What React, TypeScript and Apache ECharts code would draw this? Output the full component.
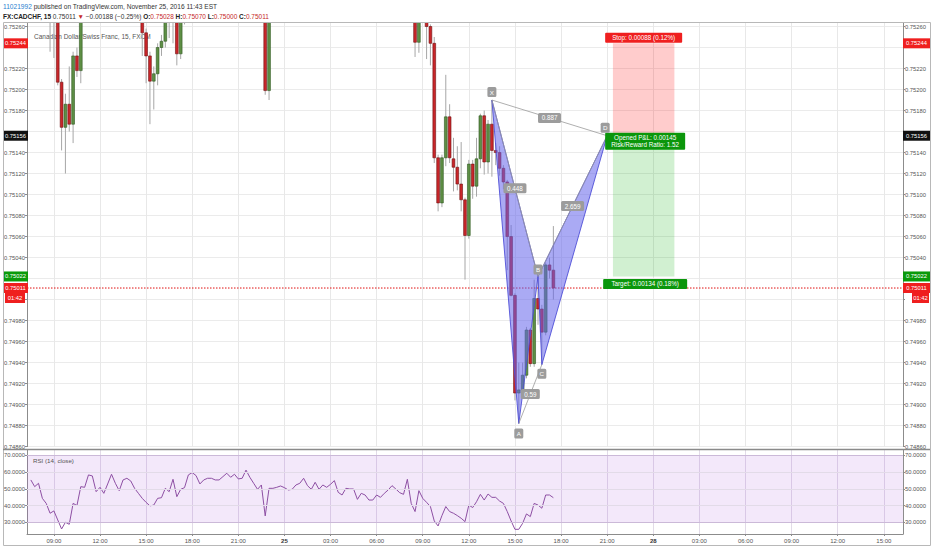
import React, { useEffect, useRef } from "react";
import * as echarts from "echarts";

const FONT = '"Liberation Sans", Arial, sans-serif';

// 15-min bars from 24 Nov 07:30 — [open, high, low, close]
// bars whose whole range sits above the visible pane are rough estimates
const BARS: number[][] = [
  [0.7529, 0.75305, 0.75282, 0.753], [0.753, 0.75306, 0.75278, 0.75285], [0.75285, 0.75298, 0.7528, 0.75292],
  [0.75292, 0.75295, 0.7527, 0.75276], [0.75276, 0.75282, 0.75266, 0.7527], [0.7527, 0.7528, 0.75236, 0.75272],
  [0.75272, 0.75276, 0.7523, 0.75266], [0.75266, 0.7527, 0.75204, 0.75207], [0.75207, 0.7521, 0.75142, 0.75164],
  [0.75164, 0.75196, 0.7512, 0.75186], [0.75186, 0.75222, 0.7516, 0.75167], [0.75167, 0.75236, 0.75149, 0.75232],
  [0.75232, 0.7524, 0.75212, 0.75218], [0.75218, 0.75278, 0.75206, 0.75272], [0.75272, 0.75295, 0.75268, 0.7529],
  [0.7529, 0.75308, 0.75284, 0.75302], [0.75302, 0.75322, 0.75296, 0.75318], [0.75318, 0.75326, 0.75304, 0.75312],
  [0.75312, 0.75336, 0.75308, 0.7533], [0.7533, 0.75338, 0.7532, 0.75328], [0.75328, 0.75334, 0.75308, 0.75316],
  [0.75316, 0.7533, 0.7531, 0.75325], [0.75325, 0.75342, 0.75318, 0.75338], [0.75338, 0.75344, 0.7532, 0.75326],
  [0.75326, 0.7533, 0.75304, 0.7531], [0.7531, 0.75322, 0.753, 0.75318], [0.75318, 0.7532, 0.75294, 0.753],
  [0.753, 0.75304, 0.7528, 0.75288], [0.75288, 0.75292, 0.7527, 0.75275], [0.75275, 0.7528, 0.75232, 0.75254],
  [0.75254, 0.75258, 0.75206, 0.75232], [0.75232, 0.75236, 0.75167, 0.75208], [0.75208, 0.75222, 0.75181, 0.75215],
  [0.75215, 0.75244, 0.75204, 0.7524], [0.7524, 0.75252, 0.75232, 0.75246], [0.75246, 0.75278, 0.7524, 0.75272],
  [0.75272, 0.75286, 0.75249, 0.7528], [0.7528, 0.7529, 0.75244, 0.75274], [0.75274, 0.75278, 0.75223, 0.75234],
  [0.75234, 0.75276, 0.75229, 0.7527], [0.7527, 0.7529, 0.75262, 0.75282], [0.75282, 0.75298, 0.75276, 0.75294],
  [0.75294, 0.7531, 0.75288, 0.75306], [0.75306, 0.75312, 0.75292, 0.753], [0.753, 0.75316, 0.75296, 0.7531],
  [0.7531, 0.7532, 0.75304, 0.75316], [0.75316, 0.75322, 0.75306, 0.75312], [0.75312, 0.7532, 0.75306, 0.75314],
  [0.75314, 0.75324, 0.75308, 0.7532], [0.7532, 0.75332, 0.75316, 0.75328], [0.75328, 0.75334, 0.75316, 0.75322],
  [0.75322, 0.75336, 0.75318, 0.7533], [0.7533, 0.75334, 0.75318, 0.75324], [0.75324, 0.75342, 0.7532, 0.75338],
  [0.75338, 0.75344, 0.75324, 0.7533], [0.7533, 0.75336, 0.75314, 0.7532], [0.7532, 0.75324, 0.75302, 0.75308],
  [0.75308, 0.75312, 0.7529, 0.75298], [0.75298, 0.7531, 0.75292, 0.75306], [0.75306, 0.7531, 0.75294, 0.753],
  [0.753, 0.75306, 0.7529, 0.75296], [0.75296, 0.753, 0.75195, 0.75199], [0.75199, 0.75298, 0.7519, 0.75294],
  [0.75294, 0.753, 0.75288, 0.75296], [0.75296, 0.75304, 0.75292, 0.753], [0.753, 0.75304, 0.75294, 0.75298],
  [0.75298, 0.75302, 0.7529, 0.75294], [0.75294, 0.75298, 0.75288, 0.75292], [0.75292, 0.75304, 0.7529, 0.753],
  [0.753, 0.75308, 0.75296, 0.75304], [0.75304, 0.75316, 0.753, 0.75312], [0.75312, 0.75316, 0.753, 0.75304],
  [0.75304, 0.75308, 0.75292, 0.75298], [0.75298, 0.7531, 0.75294, 0.75306], [0.75306, 0.7531, 0.75294, 0.75298],
  [0.75298, 0.75308, 0.75294, 0.75304], [0.75304, 0.75308, 0.75296, 0.753], [0.753, 0.75312, 0.75298, 0.75308],
  [0.75308, 0.7531, 0.75292, 0.75296], [0.75296, 0.753, 0.75286, 0.75292], [0.75292, 0.75302, 0.75288, 0.75298],
  [0.75298, 0.75302, 0.7529, 0.75296], [0.75296, 0.753, 0.75282, 0.75286], [0.75286, 0.75296, 0.75282, 0.75292],
  [0.75292, 0.75296, 0.75284, 0.75288], [0.75288, 0.75292, 0.75276, 0.7528], [0.7528, 0.75286, 0.75276, 0.7528],
  [0.7528, 0.7529, 0.75276, 0.75286], [0.75286, 0.7529, 0.75278, 0.75283], [0.75283, 0.75292, 0.7528, 0.75288],
  [0.75288, 0.75298, 0.75284, 0.75294], [0.75294, 0.75298, 0.75286, 0.7529], [0.7529, 0.75294, 0.75282, 0.75286],
  [0.75286, 0.7529, 0.7528, 0.75284], [0.75284, 0.75304, 0.7528, 0.753], [0.753, 0.75302, 0.75274, 0.7528],
  [0.7528, 0.75284, 0.75268, 0.75272], [0.75272, 0.75294, 0.7527, 0.7529], [0.7529, 0.75294, 0.75276, 0.75282],
  [0.75282, 0.75286, 0.7527, 0.75275], [0.75275, 0.75278, 0.75231, 0.75245], [0.75245, 0.75276, 0.75235, 0.75272],
  [0.75272, 0.7528, 0.75266, 0.75275], [0.75275, 0.75278, 0.75229, 0.7526], [0.7526, 0.75262, 0.75223, 0.75244],
  [0.75244, 0.7525, 0.7513, 0.75135], [0.75135, 0.75138, 0.75084, 0.75092], [0.75092, 0.75138, 0.75088, 0.75135],
  [0.75135, 0.75214, 0.75127, 0.75174], [0.75174, 0.75186, 0.7513, 0.75135], [0.75134, 0.75154, 0.75103, 0.75126],
  [0.75126, 0.75146, 0.75104, 0.7511], [0.7511, 0.7515, 0.75084, 0.75095], [0.75095, 0.75097, 0.75019, 0.75061],
  [0.75061, 0.75133, 0.75058, 0.75129], [0.75129, 0.75133, 0.75096, 0.75108], [0.75108, 0.75154, 0.75098, 0.75134],
  [0.75134, 0.75177, 0.75125, 0.75175], [0.75175, 0.7518, 0.75119, 0.75131], [0.75131, 0.75171, 0.7512, 0.75167],
  [0.75167, 0.7519, 0.75117, 0.75142], [0.75142, 0.75149, 0.75128, 0.7514], [0.7514, 0.75146, 0.75118, 0.75125],
  [0.75125, 0.75128, 0.75105, 0.75112], [0.75112, 0.75114, 0.75028, 0.7506], [0.7506, 0.75071, 0.75003, 0.75004],
  [0.75004, 0.75006, 0.74904, 0.74911], [0.74911, 0.7494, 0.74882, 0.74914], [0.74914, 0.7494, 0.74907, 0.74928],
  [0.74928, 0.74974, 0.74925, 0.74971], [0.74971, 0.74973, 0.74936, 0.74939], [0.74939, 0.75019, 0.74936, 0.75001],
  [0.75001, 0.75022, 0.74976, 0.74991], [0.74991, 0.74995, 0.74938, 0.74969], [0.74969, 0.75035, 0.74966, 0.75033],
  [0.75033, 0.7504, 0.7502, 0.75028], [0.75028, 0.7507, 0.75, 0.75011],
];

// RSI(14, close), one value per bar
const RSI: number[] = [
  55.3, 51.3, 53.3, 44.3, 41.3, 35.4, 36.8, 31.4, 26, 30, 28.8, 41.3, 40, 51.3, 50.9, 58.3, 57.7, 48.3, 50.9, 47.3,
  52.9, 58.7, 53.3, 48.9, 55.3, 56.3, 54.7, 50.3, 47.3, 44.3, 41.9, 39.8, 40.3, 44.3, 44.7, 50.3, 48.3, 55.7, 45.3, 49.7,
  50.7, 58.3, 59.7, 57.9, 52.9, 55.3, 56.3, 56.3, 55.3, 55.3, 57.3, 59.3, 56.9, 58.7, 55.9, 56.3, 61.2, 56.9, 53.3, 49.7,
  52.3, 33.8, 50.3, 50.3, 50.9, 51.7, 50.7, 49.3, 49.7, 52.3, 53.3, 56.3, 51.9, 49.7, 53.9, 49.7, 52.3, 50.9, 52.7, 54.9,
  47.9, 46.3, 50.3, 49.9, 49.9, 43.7, 47.3, 46.3, 43.3, 43.3, 46.3, 44.9, 47.3, 49.3, 51.9, 49.9, 47.7, 46.7, 55.7, 41.3,
  36.4, 48.9, 44.3, 41.9, 39.4, 30.8, 27.8, 34, 39.4, 36.4, 35.4, 34, 32.4, 30.4, 40.3, 38.8, 42.3, 46.7, 43.3, 46.9,
  44.9, 44.9, 42.7, 41.3, 36.4, 30.8, 25.8, 25.8, 29.4, 35, 33.4, 41.3, 40.3, 38.4, 46.3, 46.3, 44.7,
];

const RSI_TICKS = [30, 40, 50, 60, 70];

// harmonic pattern points (bar index, price)
const PATTERN = [
  { name: "X", bar: 120, price: 0.7519, dx: 0, dy: -8 },
  { name: "A", bar: 127, price: 0.74882, dx: 0, dy: 10 },
  { name: "B", bar: 132, price: 0.75022, dx: 0, dy: -7 },
  { name: "C", bar: 133, price: 0.74938, dx: 0, dy: 9 },
  { name: "D", bar: 150, price: 0.75156, dx: -2, dy: -8 },
];
const RATIOS = [
  { label: "0.887", from: "X", to: "D", w: 23 },
  { label: "0.448", from: "X", to: "B", w: 23 },
  { label: "2.659", from: "B", to: "D", w: 23 },
  { label: "0.59", from: "A", to: "C", w: 19 },
];

const POSITION = { entry: 0.75156, stop: 0.75244, target: 0.75022, fromBar: 152, toBar: 167 };
const POSITION_LABELS = {
  stop: "Stop: 0.00088 (0.12%)",
  opened: "Opened P&L: 0.00145\nRisk/Reward Ratio: 1.52",
  target: "Target: 0.00134 (0.18%)",
};
const LAST_PRICE = 0.75011;
const COUNTDOWN = "01:42";
const PRICE_TAGS = [
  { price: 0.75244, color: "#ef1f1f" },
  { price: 0.75156, color: "#111111" },
  { price: 0.75022, color: "#0b9a0b" },
  { price: 0.75011, color: "#ef1f1f" },
];

const HEADER_1 = "{u|11021992}{t| published on TradingView.com, November 25, 2016 11:43 EST}";
const HEADER_2 =
  "{k|FX:CADCHF, 15} {t|0.75011} {r|▼} {t|−0.00188 (−0.25%)} {k|O:}{r|0.75028} {k|H:}{r|0.75070} {k|L:}{r|0.75000} {k|C:}{r|0.75011}";
const TITLE = "Canadian Dollar/Swiss Franc, 15, FXCM";
const RSI_TITLE = "RSI (14, close)";

// time slots: one blank slot before the first bar, then 15-min steps (weekend skipped)
const CAT_OFFSET = 1;
const CATS: string[] = [];
for (let k = 0; k < 229; k++) {
  const t = 7 * 60 + 15 + k * 15;
  let day = 24 + Math.floor(t / 1440);
  if (day >= 26) day += 2;
  const m = t % 1440;
  const hh = String(Math.floor(m / 60)).padStart(2, "0");
  const mm = String(m % 60).padStart(2, "0");
  CATS.push(`${day} ${hh}:${mm}`);
}
const isMajor = (_i: number, v: string) => {
  const [h, m] = v.split(" ")[1].split(":").map(Number);
  return m === 0 && h % 3 === 0;
};
const fmtTime = (v: string) => {
  const [d, hm] = v.split(" ");
  return hm === "00:00" ? `{d|${d}}` : hm;
};

const GRID_L = 27;
const GRID_R_X = 903;
const AXIS_COLOR = "#8c8c8c";
const LABEL_COLOR = "#555";

// tick labels sitting under a coloured price tag are hidden, as on the original
const COVER = 0.00008;
const isCovered = (v: number) =>
  PRICE_TAGS.some((t) => Math.abs(t.price - v) < COVER) || Math.abs(LAST_PRICE - 0.0001 - v) < COVER;

const priceAxis = (position: string) => ({
  type: "value",
  gridIndex: 0,
  position,
  min: 0.7486,
  max: 0.752643,
  interval: 0.0002,
  axisLine: { show: true, lineStyle: { color: AXIS_COLOR } },
  axisTick: { show: true, length: 2, lineStyle: { color: AXIS_COLOR } },
  axisLabel: {
    fontSize: 5.8,
    color: LABEL_COLOR,
    fontFamily: FONT,
    margin: 2,
    formatter: (v: number) =>
      Math.abs(v / 0.0002 - Math.round(v / 0.0002)) < 1e-4 && !isCovered(v) ? v.toFixed(5) : "",
  },
  splitLine: { show: position === "right", lineStyle: { color: "#ebebeb", width: 1 } },
});

const rsiAxis = (position: string) => ({
  type: "value",
  gridIndex: 1,
  position,
  min: 23,
  max: 73.2,
  axisLine: { show: true, lineStyle: { color: AXIS_COLOR } },
  axisTick: { show: true, length: 2, customValues: RSI_TICKS, lineStyle: { color: AXIS_COLOR } },
  axisLabel: {
    customValues: RSI_TICKS,
    fontSize: 5.8,
    color: LABEL_COLOR,
    fontFamily: FONT,
    margin: 2,
    formatter: (v: number) => v.toFixed(4),
  },
  splitLine: { show: false },
});

function buildGraphics(chart: any) {
  const toPx = (bar: number, p: number) =>
    chart.convertToPixel({ xAxisIndex: 0, yAxisIndex: 0 }, [bar + CAT_OFFSET, p]);
  const step = toPx(1, 0.75)[0] - toPx(0, 0.75)[0];
  const yOf = (p: number) => toPx(0, p)[1];
  const els: any[] = [];

  const rect = (x: number, y: number, w: number, h: number, fill: string, z = 100, r = 0) => ({
    type: "rect", z, silent: true, shape: { x, y, width: w, height: h, r }, style: { fill },
  });
  const text = (x: number, y: number, t: string, o: any = {}) => ({
    type: "text", z: o.z ?? 112, silent: true, x, y,
    style: {
      text: t, fill: o.fill ?? "#fff", fontSize: o.size ?? 6.3, fontFamily: FONT,
      fontWeight: o.weight ?? "normal", align: o.align ?? "center", verticalAlign: "middle",
      lineHeight: o.lh, rich: o.rich,
    },
  });
  const line = (a: number[], b: number[], stroke: string, w = 1, z = 102, dash?: number[]) => ({
    type: "line", z, silent: true, shape: { x1: a[0], y1: a[1], x2: b[0], y2: b[1] },
    style: { stroke, lineWidth: w, lineDash: dash },
  });

  // header
  els.push(rect(0, 0, 932, 22, "#ffffff", 1));
  els.push(text(3, 6.5, HEADER_1, {
    align: "left", z: 120,
    rich: {
      u: { fill: "#2b7fd0", fontSize: 6.6, fontFamily: FONT },
      t: { fill: "#333", fontSize: 6.6, fontFamily: FONT },
    },
  }));
  els.push(text(3, 16, HEADER_2, {
    align: "left", z: 120,
    rich: {
      k: { fill: "#222", fontSize: 6.5, fontFamily: FONT, fontWeight: "bold" },
      t: { fill: "#333", fontSize: 6.5, fontFamily: FONT },
      r: { fill: "#c62828", fontSize: 6.5, fontFamily: FONT },
    },
  }));
  els.push(text(34, 36, TITLE, { fill: "#555", align: "left", size: 6.5, z: 1 }));
  els.push(text(33, 460, RSI_TITLE, { fill: "#555", align: "left", size: 6.2, z: 60 }));

  // position tool
  const left = toPx(POSITION.fromBar, 0)[0] - step / 2;
  const right = toPx(POSITION.toBar, 0)[0] + step / 2;
  const yE = yOf(POSITION.entry), yS = yOf(POSITION.stop), yT = yOf(POSITION.target);
  const cx = (left + right) / 2;
  els.push(rect(left, yS, right - left, yE - yS, "rgba(255,0,0,0.2)", 5));
  els.push(rect(left, yE, right - left, yT - yE, "rgba(0,170,0,0.18)", 5));
  els.push(rect(cx - 38.5, yS - 10.5, 77, 10, "#ef1f1f", 110, 1));
  els.push(text(cx, yS - 5.5, POSITION_LABELS.stop));
  els.push(rect(cx - 38.5, yE - 3, 80, 17, "#0b960b", 110, 1));
  els.push(text(cx + 1.5, yE + 5.5, POSITION_LABELS.opened, { lh: 7.5 }));
  els.push(rect(cx - 40.5, yT + 2.5, 84, 10, "#0b960b", 110, 1));
  els.push(text(cx + 1.5, yT + 7.5, POSITION_LABELS.target));

  // last price dotted line
  const yL = yOf(LAST_PRICE);
  els.push(line([GRID_L, yL], [GRID_R_X, yL], "#e01010", 1, 90, [1.5, 1.5]));

  // harmonic pattern
  const P: Record<string, number[]> = {};
  PATTERN.forEach((p) => (P[p.name] = toPx(p.bar, p.price)));
  const fill = "rgba(100,100,235,0.55)";
  const edge = "rgba(80,80,215,0.9)";
  els.push({ type: "polygon", z: 100, silent: true, shape: { points: [P.X, P.A, P.B] }, style: { fill, stroke: edge, lineWidth: 1 } });
  els.push({ type: "polygon", z: 100, silent: true, shape: { points: [P.B, P.C, P.D] }, style: { fill, stroke: edge, lineWidth: 1 } });
  RATIOS.forEach((r) => {
    const a = P[r.from], b = P[r.to];
    els.push(line(a, b, "#9a9a9a", 0.8, 102));
    const mx = (a[0] + b[0]) / 2, my = (a[1] + b[1]) / 2;
    els.push(rect(mx - r.w / 2, my - 5, r.w, 10, "#9c9c9c", 110, 1.5));
    els.push(text(mx, my, r.label));
  });
  PATTERN.forEach((p) => {
    const [x, y] = P[p.name];
    els.push(rect(x + p.dx - 4.5, y + p.dy - 5, 9, 10, "#9c9c9c", 110, 1.5));
    els.push(text(x + p.dx, y + p.dy, p.name, { size: 6.2 }));
  });

  // price tags on both scales
  PRICE_TAGS.forEach((t) => {
    const y = yOf(t.price);
    const label = t.price.toFixed(5);
    els.push(rect(GRID_R_X, y - 5, 27, 10, t.color, 115));
    els.push(text(GRID_R_X + 13.5, y, label, { size: 5.8, z: 116 }));
    els.push(rect(3, y - 5, GRID_L - 2, 10, t.color, 115));
    els.push(text(3 + (GRID_L - 2) / 2, y, label, { size: 5.8, z: 116 }));
  });
  els.push(rect(912, yL + 5, 17, 10, "#ef1f1f", 115));
  els.push(text(920.5, yL + 10, COUNTDOWN, { size: 5.8, z: 116 }));
  els.push(rect(5, yL + 5, 20, 10, "#ef1f1f", 115));
  els.push(text(15, yL + 10, COUNTDOWN, { size: 5.8, z: 116 }));

  // frame and pane separator
  els.push({ type: "rect", z: 118, silent: true, shape: { x: 3.5, y: 22.5, width: 927, height: 523 }, style: { fill: "none", stroke: "#b8b8b8", lineWidth: 1 } });
  els.push(line([3, 449.5], [930, 449.5], "#8a8a8a", 1.6, 118));

  return els;
}

export default function App() {
  const ref = useRef<HTMLDivElement>(null);

  useEffect(() => {
    if (!ref.current) return;
    const chart = echarts.init(ref.current, null, { renderer: "svg" });

    chart.setOption({
      animation: false,
      backgroundColor: "#ffffff",
      textStyle: { fontFamily: FONT },
      grid: [
        { left: GRID_L, right: 932 - GRID_R_X, top: 22, height: 424.6 },
        { left: GRID_L, right: 932 - GRID_R_X, top: 450, height: 84 },
      ],
      xAxis: [
        {
          type: "category", gridIndex: 0, data: CATS, boundaryGap: false,
          axisLine: { show: false }, axisTick: { show: false }, axisLabel: { show: false },
          splitLine: { show: true, interval: isMajor, lineStyle: { color: "#e8e8e8" } },
        },
        {
          type: "category", gridIndex: 1, data: CATS, boundaryGap: false,
          axisLine: { show: true, lineStyle: { color: AXIS_COLOR } },
          axisTick: { show: true, interval: isMajor, length: 2, lineStyle: { color: AXIS_COLOR } },
          axisLabel: {
            interval: isMajor, formatter: fmtTime, fontSize: 6, color: LABEL_COLOR, fontFamily: FONT, margin: 4,
            rich: { d: { fontSize: 6, color: "#333", fontWeight: "bold", fontFamily: FONT } },
          },
          splitLine: { show: true, interval: isMajor, lineStyle: { color: "#e2dbe8" } },
        },
      ],
      yAxis: [priceAxis("right"), priceAxis("left"), rsiAxis("right"), rsiAxis("left")],
      series: [
        {
          type: "custom",
          xAxisIndex: 0,
          yAxisIndex: 0,
          clip: true,
          encode: { x: 0, y: [1, 2, 3, 4] },
          data: BARS.map((b, i) => [i + CAT_OFFSET, ...b]),
          renderItem: (params: any, api: any) => {
            const x = api.value(0);
            const o = api.value(1), h = api.value(2), l = api.value(3), c = api.value(4);
            const [px, yo] = api.coord([x, o]);
            const yh = api.coord([x, h])[1];
            const yl = api.coord([x, l])[1];
            const yc = api.coord([x, c])[1];
            const bw = api.size([1, 0])[0] * 0.72;
            const up = c >= o;
            const cs = params.coordSys;
            return {
              type: "group",
              clipPath: { type: "rect", shape: { x: cs.x, y: cs.y, width: cs.width, height: cs.height } },
              children: [
                { type: "line", shape: { x1: px, y1: yh, x2: px, y2: yl }, style: { stroke: "#a6a6a6", lineWidth: 1 } },
                {
                  type: "rect",
                  shape: { x: px - bw / 2, y: Math.min(yo, yc), width: bw, height: Math.max(Math.abs(yo - yc), 1) },
                  style: { fill: up ? "#5e8f45" : "#c9262a", stroke: up ? "#2f5720" : "#6e1010", lineWidth: 0.6 },
                },
              ],
            };
          },
        },
        {
          type: "line",
          xAxisIndex: 1,
          yAxisIndex: 2,
          data: [null, ...RSI],
          symbol: "none",
          showSymbol: false,
          lineStyle: { color: "#8d4fa3", width: 1 },
          markArea: {
            silent: true,
            itemStyle: { color: "rgba(160,80,220,0.13)" },
            data: [[{ yAxis: 30 }, { yAxis: 70 }]],
          },
          markLine: {
            silent: true,
            symbol: "none",
            label: { show: false },
            data: RSI_TICKS.map((v) => ({
              yAxis: v,
              lineStyle: { color: v === 30 || v === 70 ? "#cbb9d8" : "#e2dbe8", width: 1, type: "solid" },
            })),
          },
        },
      ],
    });

    chart.setOption({ graphic: { elements: buildGraphics(chart) } });

    return () => chart.dispose();
  }, []);

  return (
    <div
      ref={ref}
      style={{ position: "absolute", left: 0, top: 0, width: 932, height: 550, background: "#fff" }}
    />
  );
}
